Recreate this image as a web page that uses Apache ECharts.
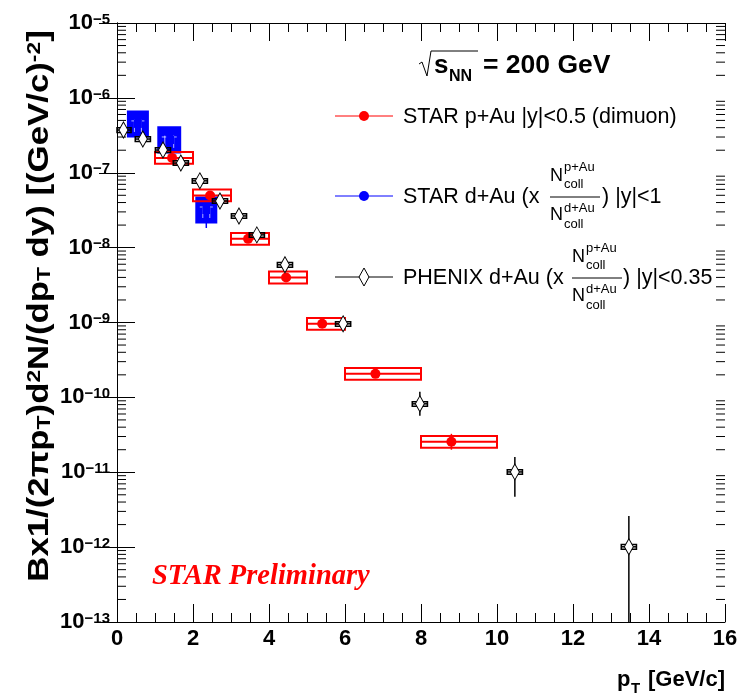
<!DOCTYPE html>
<html>
<head>
<meta charset="utf-8">
<script src="https://cdn.jsdelivr.net/npm/echarts@6/dist/echarts.min.js"></script>
<style>
  html, body { margin: 0; padding: 0; background: #fff; }
  #chart { width: 741px; height: 696px; }
</style>
</head>
<body>
<div id="chart"></div>
<script>
// STAR p+Au (dimuon), |y|<0.5
var redPt     = [1.45, 2.45, 3.45, 4.45, 5.4, 6.8, 8.8];
var redY      = [1.58e-7, 4.98e-8, 1.31e-8, 4.0e-9, 9.6e-10, 2.06e-10, 2.55e-11];
var redBinLo  = [1, 2, 3, 4, 5, 6, 8];
var redBinHi  = [2, 3, 4, 5, 6, 8, 10];
var redSysLo  = [1.32e-7, 4.15e-8, 1.09e-8, 3.33e-9, 8.0e-10, 1.72e-10, 2.13e-11];
var redSysHi  = [1.90e-7, 5.98e-8, 1.57e-8, 4.8e-9, 1.15e-9, 2.47e-10, 3.06e-11];
var redStatLo = [1.5e-7, 4.7e-8, 1.24e-8, 3.75e-9, 8.8e-10, 1.85e-10, 2.0e-11];
var redStatHi = [1.66e-7, 5.25e-8, 1.38e-8, 4.25e-9, 1.04e-9, 2.28e-10, 3.26e-11];

// STAR d+Au, |y|<1 (scaled)
var bluePt     = [0.55, 1.4, 2.35];
var blueY      = [4.49e-7, 2.74e-7, 3.18e-8];
var blueBinLo  = [0.3, 1.1, 2.1];
var blueBinHi  = [0.8, 1.65, 2.6];
var blueSysLo  = [3.1e-7, 1.9e-7, 2.2e-8];
var blueSysHi  = [6.5e-7, 4.0e-7, 4.6e-8];
var blueStatLo = [4.1e-7, 2.5e-7, 1.83e-8];
var blueStatHi = [4.9e-7, 3.0e-7, 4.0e-8];

// PHENIX d+Au, |y|<0.35 (scaled)
var phxPt     = [0.17, 0.68, 1.21, 1.68, 2.18, 2.71, 3.21, 3.68, 4.42, 5.95, 7.97, 10.47, 13.47];
var phxY      = [3.72e-7, 2.82e-7, 2.01e-7, 1.35e-7, 7.8e-8, 4.2e-8, 2.65e-8, 1.48e-8, 5.9e-9, 9.6e-10, 8.2e-11, 1.01e-11, 1.01e-12];
var phxStatLo = [3.5e-7, 2.65e-7, 1.88e-7, 1.26e-7, 7.2e-8, 3.85e-8, 2.4e-8, 1.33e-8, 5.2e-9, 8.2e-10, 5.7e-11, 4.7e-12, 1e-14];
var phxStatHi = [3.95e-7, 3.0e-7, 2.15e-7, 1.45e-7, 8.4e-8, 4.6e-8, 2.9e-8, 1.65e-8, 6.7e-9, 1.12e-9, 1.19e-10, 1.6e-11, 2.6e-12];
var phxSysRel = [0.07, 0.07, 0.07, 0.07, 0.07, 0.07, 0.07, 0.07, 0.07, 0.07, 0.07, 0.07, 0.07];
var phxBoxHalf = 0.2;

// axis ranges / ticks
var xMin = 0, xMax = 16, xStep = 2;
var yMin = 1e-13, yMax = 1e-5;
var minorVals = [];
for (var e = -13; e < -5; e++) {
    for (var k = 2; k <= 9; k++) minorVals.push(k * Math.pow(10, e));
}

var FONT = 'Liberation Sans';

function build(n, f) { var a = []; for (var i = 0; i < n; i++) a.push(f(i)); return a; }

function clampY(y, cs) { return Math.max(cs.y, Math.min(cs.y + cs.height, y)); }

// systematic box: [xlo, xhi, ylo, yhi, x, y]
function boxItem(color, lw, filled) {
    return function (params, api) {
        var cs = params.coordSys;
        var p0 = api.coord([api.value(0), api.value(2)]);
        var p1 = api.coord([api.value(1), api.value(3)]);
        var pc = api.coord([api.value(4), api.value(5)]);
        var x0 = Math.min(p0[0], p1[0]), x1 = Math.max(p0[0], p1[0]);
        var y0 = Math.min(p0[1], p1[1]), y1 = Math.max(p0[1], p1[1]);
        x0 = Math.max(x0, cs.x);
        var kids = [
            { type: 'rect', shape: { x: x0, y: y0, width: x1 - x0, height: y1 - y0 },
              style: { fill: filled ? color : 'none', stroke: color, lineWidth: lw } }
        ];
        if (filled) {
            // thin light stripes inside the filled box
            kids.push({ type: 'line', shape: { x1: x0 + 3, y1: pc[1] - 3, x2: x1 - 3, y2: pc[1] - 3 },
                        style: { stroke: '#ffffff', lineWidth: 1, opacity: 0.7 } });
            kids.push({ type: 'line', shape: { x1: x0 + 6, y1: y0 + 8, x2: x0 + 6, y2: y1 - 4 },
                        style: { stroke: '#ffffff', lineWidth: 1, opacity: 0.7 } });
            kids.push({ type: 'line', shape: { x1: x1 - 6, y1: y0 + 8, x2: x1 - 6, y2: y1 - 4 },
                        style: { stroke: '#ffffff', lineWidth: 1, opacity: 0.7 } });
        } else {
            kids.push({ type: 'line', shape: { x1: x0, y1: pc[1], x2: x1, y2: pc[1] },
                        style: { stroke: color, lineWidth: lw } });
        }
        return { type: 'group', children: kids };
    };
}

// vertical error bar: [x, lo, hi]
function errItem(color, lw) {
    return function (params, api) {
        var cs = params.coordSys;
        var a = api.coord([api.value(0), api.value(1)]);
        var b = api.coord([api.value(0), api.value(2)]);
        return { type: 'line',
                 shape: { x1: a[0], y1: clampY(a[1], cs), x2: b[0], y2: clampY(b[1], cs) },
                 style: { stroke: color, lineWidth: lw } };
    };
}

var chart = echarts.init(document.getElementById('chart'), null, { renderer: 'canvas' });

function axisX(pos) {
    return {
        type: 'value', position: pos, min: xMin, max: xMax, interval: xStep,
        axisLine: { show: true, onZero: false, lineStyle: { color: '#000', width: 1 } },
        axisTick: { show: true, inside: true, length: 18, lineStyle: { color: '#000' } },
        minorTick: { show: true, splitNumber: 4, length: 9, lineStyle: { color: '#000' } },
        splitLine: { show: false },
        axisLabel: pos === 'bottom' ? {
            show: true, margin: 6, color: '#000', fontFamily: FONT, fontWeight: 'bold', fontSize: 22
        } : { show: false }
    };
}

function axisY(pos) {
    return {
        type: 'log', logBase: 10, position: pos, min: yMin, max: yMax, splitNumber: 8,
        axisLine: { show: true, lineStyle: { color: '#000', width: 1 } },
        axisTick: { show: true, inside: true, length: 18, lineStyle: { color: '#000' } },
        splitLine: { show: false },
        axisLabel: pos === 'left' ? {
            show: true, margin: 7, color: '#000',
            formatter: function (v) {
                var ex = Math.round(Math.log(v) / Math.LN10);
                return '{b|10}{s|\u2212' + Math.abs(ex) + '}';
            },
            rich: {
                b: { fontFamily: FONT, fontWeight: 'bold', fontSize: 22, lineHeight: 22,
                     verticalAlign: 'bottom', padding: [7, 0, 0, 0], color: '#000' },
                s: { fontFamily: FONT, fontWeight: 'bold', fontSize: 15, lineHeight: 15,
                     verticalAlign: 'top', color: '#000' }
            }
        } : { show: false }
    };
}

function txt(x, y, s, size, opt) {
    opt = opt || {};
    return {
        type: 'text', x: x, y: y, silent: true,
        style: {
            text: s, fill: opt.color || '#000', fontFamily: opt.family || FONT,
            fontSize: size, fontWeight: opt.weight || 'normal', fontStyle: opt.style || 'normal',
            align: opt.align || 'left', verticalAlign: 'middle'
        }
    };
}

function fraction(x, yLine) {
    var sz = 18, ss = 13;
    return [
        txt(x, yLine - 21, 'N', sz),
        txt(x + 14, yLine - 30, 'p+Au', ss),
        txt(x + 14, yLine - 13, 'coll', ss),
        { type: 'line', silent: true, shape: { x1: x, y1: yLine, x2: x + 50, y2: yLine },
          style: { stroke: '#000', lineWidth: 1 } },
        txt(x, yLine + 18, 'N', sz),
        txt(x + 14, yLine + 11, 'd+Au', ss),
        txt(x + 14, yLine + 27, 'coll', ss)
    ];
}

var legendX0 = 335, legendX1 = 393, legendMx = 364, legendTx = 403;
var graphics = [
    // sqrt(s_NN) = 200 GeV
    { type: 'polyline', silent: true,
      shape: { points: [[419, 64], [422, 62], [427, 76], [431, 51], [478, 51]] },
      style: { stroke: '#000', lineWidth: 1, fill: 'none' } },
    txt(434, 66, 's', 26, { weight: 'bold' }),
    txt(449, 77, 'NN', 16, { weight: 'bold' }),
    txt(483, 66, '= 200 GeV', 26.5, { weight: 'bold' }),

    // legend: STAR p+Au
    { type: 'line', silent: true, shape: { x1: legendX0, y1: 116, x2: legendX1, y2: 116 },
      style: { stroke: '#ff0000', lineWidth: 1 } },
    { type: 'circle', silent: true, shape: { cx: legendMx, cy: 116, r: 5 }, style: { fill: '#ff0000' } },
    txt(legendTx, 117, 'STAR p+Au |y|<0.5 (dimuon)', 21.5),

    // legend: STAR d+Au
    { type: 'line', silent: true, shape: { x1: legendX0, y1: 196, x2: legendX1, y2: 196 },
      style: { stroke: '#0000ff', lineWidth: 1 } },
    { type: 'circle', silent: true, shape: { cx: legendMx, cy: 196, r: 5 }, style: { fill: '#0000ff' } },
    txt(legendTx, 197, 'STAR d+Au (x', 21.5),
    txt(602, 197, ') |y|<1', 21.5),

    // legend: PHENIX d+Au
    { type: 'line', silent: true, shape: { x1: legendX0, y1: 277, x2: legendX1, y2: 277 },
      style: { stroke: '#000', lineWidth: 1 } },
    { type: 'polygon', silent: true,
      shape: { points: [[legendMx, 268], [legendMx + 5, 277], [legendMx, 286], [legendMx - 5, 277]] },
      style: { fill: '#fff', stroke: '#000', lineWidth: 1 } },
    txt(legendTx, 278, 'PHENIX d+Au (x', 21.5),
    txt(623, 278, ') |y|<0.35', 21.5),

    // STAR Preliminary
    txt(152, 577, 'STAR Preliminary', 28.5, { family: 'Liberation Serif', weight: 'bold', style: 'italic', color: '#ff0000' }),

    // x title
    txt(617, 680, 'p', 22, { weight: 'bold' }),
    txt(631, 689, 'T', 15, { weight: 'bold' }),
    txt(725, 680, '[GeV/c]', 22, { weight: 'bold', align: 'right' }),

    // y title (stretched along the text direction like the original)
    { type: 'text', silent: true, x: 40, y: 306, rotation: Math.PI / 2, scaleX: 1.2,
      style: { text: '{b|Bx1/(2\u03c0p}{sub|T}{b|)d}{sup|2}{b|N/(dp}{sub|T}{b| dy) [(GeV/c)}{sup|-2}{b|]}',
               align: 'center', verticalAlign: 'middle',
               rich: {
                   b: { fontFamily: FONT, fontWeight: 'bold', fontSize: 29, lineHeight: 29, verticalAlign: 'middle',
                        padding: [9, 0, 9, 0], fill: '#000' },
                   sub: { fontFamily: FONT, fontWeight: 'bold', fontSize: 19, lineHeight: 19, verticalAlign: 'bottom', fill: '#000' },
                   sup: { fontFamily: FONT, fontWeight: 'bold', fontSize: 19, lineHeight: 19, verticalAlign: 'top', fill: '#000' }
               } } }
];
graphics = graphics.concat(fraction(550, 197), fraction(572, 278));

var option = {
    animation: false,
    backgroundColor: '#fff',
    grid: { left: 117, right: 16, top: 23, bottom: 74, containLabel: false },
    xAxis: [axisX('bottom'), axisX('top')],
    yAxis: [axisY('left'), axisY('right')],
    graphic: graphics,
    series: [
        {   // log minor ticks on left and right frame
            type: 'custom', silent: true, z: 1,
            data: minorVals.map(function (v) { return [0, v]; }),
            renderItem: function (params, api) {
                var cs = params.coordSys;
                var y = api.coord([0, api.value(1)])[1];
                return { type: 'group', children: [
                    { type: 'line', shape: { x1: cs.x, y1: y, x2: cs.x + 9, y2: y }, style: { stroke: '#000', lineWidth: 1 } },
                    { type: 'line', shape: { x1: cs.x + cs.width - 9, y1: y, x2: cs.x + cs.width, y2: y }, style: { stroke: '#000', lineWidth: 1 } }
                ] };
            }
        },
        {   // STAR d+Au systematic boxes
            type: 'custom', z: 2, silent: true,
            data: build(bluePt.length, function (i) { return [blueBinLo[i], blueBinHi[i], blueSysLo[i], blueSysHi[i], bluePt[i], blueY[i]]; }),
            renderItem: boxItem('#0000ff', 3, true)
        },
        {
            type: 'custom', z: 2, silent: true,
            data: build(bluePt.length, function (i) { return [bluePt[i], blueStatLo[i], blueStatHi[i]]; }),
            renderItem: errItem('#0000ff', 1.5)
        },
        {
            name: 'STAR d+Au', type: 'scatter', z: 3, symbol: 'rect', symbolSize: 8, silent: true,
            itemStyle: { color: '#0000ff', opacity: 1 },
            data: build(bluePt.length, function (i) { return [bluePt[i], blueY[i]]; })
        },
        {   // STAR p+Au systematic boxes
            type: 'custom', z: 4, silent: true,
            data: build(redPt.length, function (i) { return [redBinLo[i], redBinHi[i], redSysLo[i], redSysHi[i], redPt[i], redY[i]]; }),
            renderItem: boxItem('#ff0000', 2, false)
        },
        {
            type: 'custom', z: 4, silent: true,
            data: build(redPt.length, function (i) { return [redPt[i], redStatLo[i], redStatHi[i]]; }),
            renderItem: errItem('#ff0000', 1.5)
        },
        {
            name: 'STAR p+Au', type: 'scatter', z: 5, symbol: 'circle', symbolSize: 10, silent: true,
            itemStyle: { color: '#ff0000', opacity: 1 },
            data: build(redPt.length, function (i) { return [redPt[i], redY[i]]; })
        },
        {   // PHENIX error bars
            type: 'custom', z: 6, silent: true,
            data: build(phxPt.length, function (i) { return [phxPt[i], phxStatLo[i], phxStatHi[i]]; }),
            renderItem: errItem('#000', 1.5)
        },
        {   // PHENIX systematic boxes
            type: 'custom', z: 6, silent: true,
            data: build(phxPt.length, function (i) {
                return [phxPt[i] - phxBoxHalf, phxPt[i] + phxBoxHalf,
                        phxY[i] * (1 - phxSysRel[i]), phxY[i] * (1 + phxSysRel[i]), phxPt[i], phxY[i]];
            }),
            renderItem: boxItem('#000', 1.5, false)
        },
        {
            name: 'PHENIX d+Au', type: 'scatter', z: 7, symbol: 'diamond', symbolSize: [9, 16], silent: true,
            itemStyle: { color: '#ffffff', borderColor: '#000', borderWidth: 1, opacity: 1 },
            data: build(phxPt.length, function (i) { return [phxPt[i], phxY[i]]; })
        }
    ]
};
chart.setOption(option);
</script>
</body>
</html>
